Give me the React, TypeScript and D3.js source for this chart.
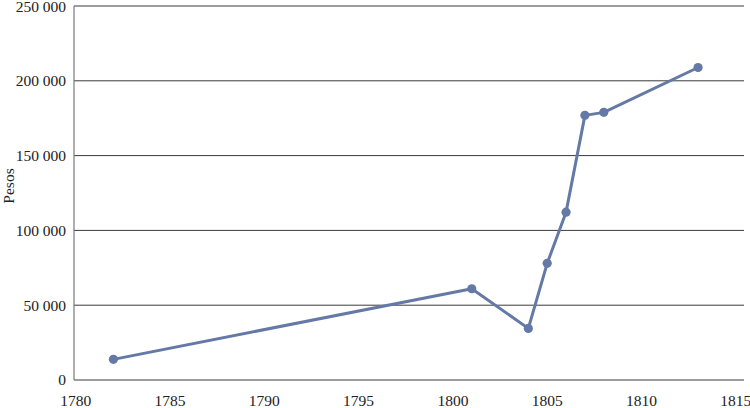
import React from "react";
import * as d3 from "d3";

const years = [1782, 1801, 1804, 1805, 1806, 1807, 1808, 1813];
const pesos = [13800, 61000, 34500, 78000, 112200, 176900, 178900, 208900];
const xTicks = [1780, 1785, 1790, 1795, 1800, 1805, 1810, 1815];
const yTicks = [0, 50000, 100000, 150000, 200000, 250000];

const W = 750;
const H = 408;
const txt: React.CSSProperties = {
  fontFamily: "'Liberation Serif', serif",
  fontSize: "15.5px",
};

export default function App() {
  const x = d3.scaleLinear().domain([1780, 1815]).range([75.7, 735.8]);
  const y = d3.scaleLinear().domain([0, 250000]).range([380, 6]);
  const left = 74;
  const right = 744;
  const fmt = (v: number) => (v === 0 ? "0" : d3.format(",")(v).replace(/,/g, " "));
  const pts = years.map((yr, i) => [x(yr), y(pesos[i])] as [number, number]);
  const line = d3.line()(pts) || "";
  const color = "#6479a5";
  return (
    <svg
      width={W}
      height={H}
      style={{ position: "absolute", left: 0, top: 0, background: "#fff" }}
    >
      {yTicks.map((t) => (
        <g key={t}>
          <line x1={left} x2={right} y1={y(t)} y2={y(t)} stroke="#3a3a3a" strokeWidth={1} />
          <text x={66} y={Math.max(y(t), 6.5)} dy="0.35em" textAnchor="end" style={txt} fill="#222">
            {fmt(t)}
          </text>
        </g>
      ))}
      <line x1={left} x2={left} y1={y(250000)} y2={y(0)} stroke="#777" strokeWidth={1.2} />
      {xTicks.map((t) => (
        <text key={t} x={x(t)} y={406} textAnchor="middle" style={txt} fill="#222">
          {t}
        </text>
      ))}
      <text
        transform={`translate(13.5,186) rotate(-90)`}
        textAnchor="middle"
        style={txt}
        fill="#222"
      >
        Pesos
      </text>
      <path d={line} fill="none" stroke={color} strokeWidth={3} strokeLinejoin="round" />
      {pts.map((p, i) => (
        <circle key={i} cx={p[0]} cy={p[1]} r={4.6} fill={color} />
      ))}
    </svg>
  );
}
